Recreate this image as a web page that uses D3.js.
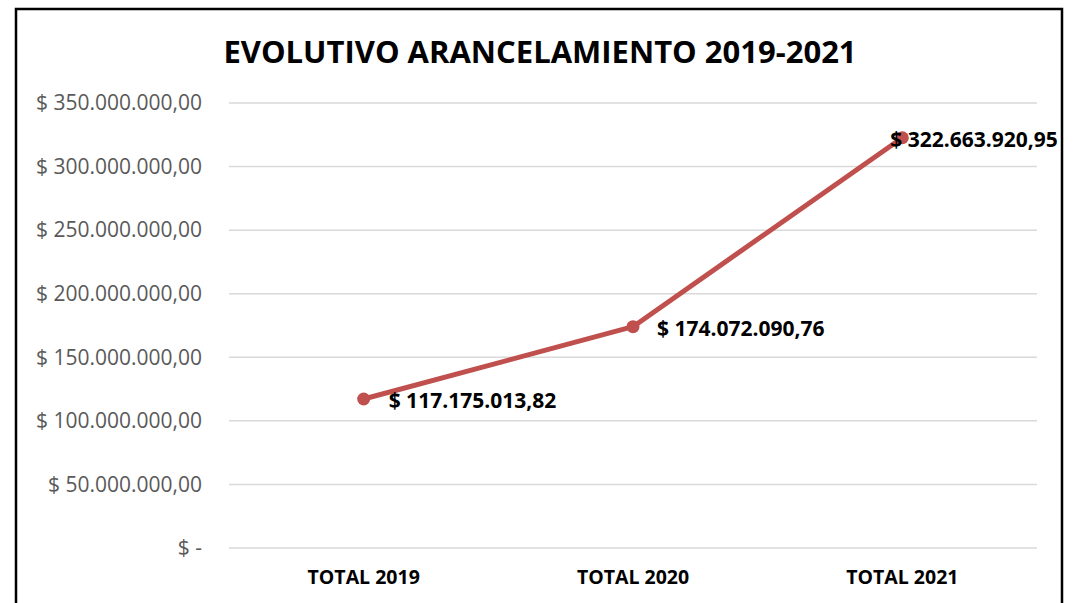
<!DOCTYPE html>
<html>
<head>
<meta charset="utf-8">
<script src="https://cdn.jsdelivr.net/npm/d3@7"></script>
<style>
  body { margin: 0; background: #fff; }
  svg { display: block; font-family: "Open Sans", "Noto Sans", sans-serif; }
</style>
</head>
<body>
<svg id="chart"></svg>
<script>
const categories = ["TOTAL 2019", "TOTAL 2020", "TOTAL 2021"];
const values = [117175013.82, 174072090.76, 322663920.95];
const labels = ["$ 117.175.013,82", "$ 174.072.090,76", "$ 322.663.920,95"];
const yTicks = [0, 50e6, 100e6, 150e6, 200e6, 250e6, 300e6, 350e6];
const yTickLabels = ["$ -", "$ 50.000.000,00", "$ 100.000.000,00", "$ 150.000.000,00",
  "$ 200.000.000,00", "$ 250.000.000,00", "$ 300.000.000,00", "$ 350.000.000,00"];

const width = 1074;
const height = 603;
const margin = { top: 103, right: 37, bottom: 55, left: 229 };

const svg = d3.select("#chart").attr("width", width).attr("height", height);

// outer frame (bottom edge is cut off in the reference)
svg.append("path")
  .attr("d", `M16,${height + 5} L16,9 L1062,9 L1062,${height + 5}`)
  .attr("fill", "none")
  .attr("stroke", "#000")
  .attr("stroke-width", 2.5);

const x = d3.scaleBand()
  .domain(categories)
  .range([margin.left, width - margin.right]);

const y = d3.scaleLinear()
  .domain([0, 350e6])
  .range([height - margin.bottom, margin.top]);

// gridlines
svg.append("g")
  .selectAll("line")
  .data(yTicks)
  .join("line")
  .attr("x1", margin.left)
  .attr("x2", width - margin.right)
  .attr("y1", (d) => y(d))
  .attr("y2", (d) => y(d))
  .attr("stroke", "#d9d9d9")
  .attr("stroke-width", 1.5);

// y axis labels
const yAxis = svg.append("g")
  .attr("transform", `translate(${margin.left - 27},0)`)
  .call(d3.axisLeft(y).tickValues(yTicks).tickFormat((d, i) => yTickLabels[i]).tickSize(0));
yAxis.select(".domain").remove();
yAxis.selectAll("text")
  .attr("font-family", "Open Sans, sans-serif")
  .attr("font-size", 21)
  .attr("fill", "#595959")
  .attr("x", 0)
  .attr("dy", "0.32em");

// x axis labels
const xAxis = svg.append("g")
  .attr("transform", `translate(0,${height - margin.bottom})`)
  .call(d3.axisBottom(x).tickSize(0));
xAxis.select(".domain").remove();
xAxis.selectAll("text")
  .attr("font-family", "Open Sans, sans-serif")
  .attr("font-size", 19.5)
  .attr("font-weight", "bold")
  .attr("fill", "#000")
  .attr("y", 36)
  .attr("dy", 0);

const cx = (i) => x(categories[i]) + x.bandwidth() / 2;

const line = d3.line()
  .x((d, i) => cx(i))
  .y((d) => y(d));

svg.append("path")
  .datum(values)
  .attr("d", line)
  .attr("fill", "none")
  .attr("stroke", "#c0504d")
  .attr("stroke-width", 5)
  .attr("stroke-linejoin", "round");

svg.append("g")
  .selectAll("circle")
  .data(values)
  .join("circle")
  .attr("cx", (d, i) => cx(i))
  .attr("cy", (d) => y(d))
  .attr("r", 6.5)
  .attr("fill", "#c0504d");

// data labels (last one pulled left to stay inside the frame)
const labelDx = [25, 24, -12];
svg.append("g")
  .selectAll("text")
  .data(values)
  .join("text")
  .attr("x", (d, i) => cx(i) + labelDx[i])
  .attr("y", (d) => y(d) + 2)
  .attr("dy", "0.35em")
  .attr("font-size", 21)
  .attr("font-weight", "bold")
  .attr("fill", "#000")
  .text((d, i) => labels[i]);

// title
svg.append("text")
  .attr("x", 540)
  .attr("y", 63)
  .attr("text-anchor", "middle")
  .attr("font-size", 31)
  .attr("font-weight", "bold")
  .attr("fill", "#000")
  .text("EVOLUTIVO ARANCELAMIENTO 2019-2021");
</script>
</body>
</html>
